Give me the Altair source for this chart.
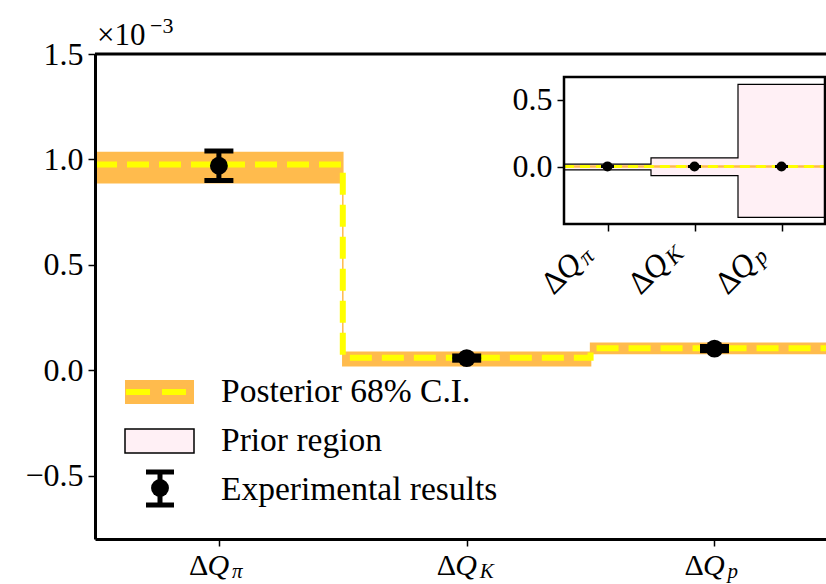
import altair as alt
import pandas as pd

FONT = "Liberation Serif"
ORANGE = "#FFBB4D"
YELLOW = "#FFFF00"
PINK = "#FFF0F5"

# ---------------- data (main panel in units of 1e-3) ----------------
pos = [0, 1, 2]
subs = ["π", "K", "p"]
post_med = [0.976, 0.060, 0.104]
post_lo = [0.890, 0.022, 0.080]
post_hi = [1.033, 0.086, 0.128]
exp_val = [0.970, 0.058, 0.103]
exp_err = [0.070, 0.010, 0.010]
# inset (absolute units)
prior_lo = [-0.025, -0.068, -0.380]
prior_hi = [0.018, 0.065, 0.615]
main_yticks = [-0.5, 0.0, 0.5, 1.0, 1.5]
inset_yticks = [0.0, 0.5]
UNIT = 1e-3

edges = [p - 0.5 for p in pos] + [pos[-1] + 0.5]


def stepify(v):
    return list(v) + [v[-1]]


main_step = pd.DataFrame({"x": edges, "lo": stepify(post_lo), "hi": stepify(post_hi),
                          "med": stepify(post_med)})
inset_step = pd.DataFrame({"x": edges, "plo": stepify(prior_lo), "phi": stepify(prior_hi),
                           "lo": [v * UNIT for v in stepify(post_lo)],
                           "hi": [v * UNIT for v in stepify(post_hi)],
                           "med": [v * UNIT for v in stepify(post_med)]})
exp_df = pd.DataFrame({
    "pos": pos, "sub": subs, "val": exp_val,
    "lo": [v - e for v, e in zip(exp_val, exp_err)],
    "hi": [v + e for v, e in zip(exp_val, exp_err)],
    "ival": [v * UNIT for v in exp_val],
    "ilo": [(v - e) * UNIT for v, e in zip(exp_val, exp_err)],
    "ihi": [(v + e) * UNIT for v, e in zip(exp_val, exp_err)],
})
frame_df = pd.DataFrame({"x0": [edges[0]], "x1": [edges[-1]], "y0": [-0.43], "y1": [0.67]})
one = pd.DataFrame({"a": [0]})

W, H = 731, 485


def xs_main():
    return alt.Scale(domain=[-0.5, 2.45], nice=False, zero=False)


def ys_main():
    return alt.Scale(domain=[-0.8, 1.5], nice=False, zero=False)


def xs_in():
    return alt.Scale(domain=[-0.5, 2.5], range=[469, 730], nice=False, zero=False)


def ys_in():
    return alt.Scale(domain=[-0.43, 0.67], range=[170, 23], nice=False, zero=False)


x_axis_main = alt.Axis(values=pos, labels=False, tickSize=7, tickWidth=1.5, tickColor="black",
                       domainColor="black", domainWidth=3, grid=False, title=None,
                       orient="bottom", zindex=2)
y_axis_main = alt.Axis(values=main_yticks, format=".1f", labelFont=FONT, labelFontSize=32,
                       labelColor="black", labelPadding=5, tickSize=7, tickWidth=1.5,
                       tickColor="black", domainColor="black", domainWidth=3, grid=False,
                       title=None, orient="left", zindex=2)
x_axis_in = alt.Axis(values=pos, labels=False, tickSize=7, tickWidth=1.5, tickColor="black",
                     domain=False, grid=False, title=None, orient="bottom", offset=-315, zindex=2)
y_axis_in = alt.Axis(values=inset_yticks, format=".1f", labelFont=FONT, labelFontSize=32,
                     labelColor="black", labelPadding=5, tickSize=7, tickWidth=1.5,
                     tickColor="black", domain=False, grid=False, title=None, orient="left",
                     offset=-469, zindex=2)


def X(f, s):
    return alt.X(f, scale=s(), axis=None)


def Y(f, s):
    return alt.Y(f, scale=s(), axis=None)


# ---------------- main panel ----------------
band = alt.Chart(main_step).mark_area(interpolate="step-after", color=ORANGE, stroke=ORANGE,
                                      strokeWidth=1.5).encode(
    x=alt.X("x:Q", scale=xs_main(), axis=x_axis_main),
    y=alt.Y("lo:Q", scale=ys_main(), axis=y_axis_main), y2="hi:Q")
med = alt.Chart(main_step).mark_line(interpolate="step-after", color=YELLOW, strokeWidth=6,
                                     strokeDash=[22, 10]).encode(
    x=X("x:Q", xs_main), y=Y("med:Q", ys_main))
ebar = alt.Chart(exp_df).mark_rule(color="black", strokeWidth=5).encode(
    x=X("pos:Q", xs_main), y=Y("lo:Q", ys_main), y2="hi:Q")
cap_lo = alt.Chart(exp_df).mark_tick(color="black", orient="horizontal", size=29, thickness=5,
                                     opacity=1).encode(x=X("pos:Q", xs_main), y=Y("lo:Q", ys_main))
cap_hi = alt.Chart(exp_df).mark_tick(color="black", orient="horizontal", size=29, thickness=5,
                                     opacity=1).encode(x=X("pos:Q", xs_main), y=Y("hi:Q", ys_main))
pts = alt.Chart(exp_df).mark_circle(color="black", opacity=1, size=320).encode(
    x=X("pos:Q", xs_main), y=Y("val:Q", ys_main))

lab_d = alt.Chart(exp_df).mark_text(text="Δ", align="left", baseline="alphabetic", dx=-30,
                                    font=FONT, fontSize=30, color="black").encode(
    x=X("pos:Q", xs_main), y=alt.value(H + 36))
lab_q = alt.Chart(exp_df).mark_text(text="Q", align="left", baseline="alphabetic", dx=-11.5,
                                    font=FONT, fontSize=30, fontStyle="italic",
                                    color="black").encode(
    x=X("pos:Q", xs_main), y=alt.value(H + 36))
lab_s = alt.Chart(exp_df).mark_text(align="left", baseline="alphabetic", dx=13, dy=3,
                                    font=FONT, fontSize=21, fontStyle="italic",
                                    color="black").encode(
    x=X("pos:Q", xs_main), y=alt.value(H + 36), text="sub:N")

top_spine = alt.Chart(one).mark_rule(color="black", strokeWidth=3).encode(y=alt.value(0))
mult = alt.Chart(one).mark_text(text="×10", align="left", baseline="alphabetic", font=FONT,
                                fontSize=31, color="black").encode(
    x=alt.value(2), y=alt.value(-9))
mult_exp = alt.Chart(one).mark_text(text="−3", align="left", baseline="alphabetic", font=FONT,
                                    fontSize=22, color="black").encode(
    x=alt.value(55), y=alt.value(-21))

# legend
leg1 = alt.Chart(one).mark_rect(color=ORANGE).encode(
    x=alt.value(30), x2=alt.value(99), y=alt.value(326), y2=alt.value(350))
leg1l = alt.Chart(one).mark_rule(color=YELLOW, strokeWidth=6, strokeDash=[24, 12]).encode(
    x=alt.value(31), x2=alt.value(99), y=alt.value(338))
leg2 = alt.Chart(one).mark_rect(fill=PINK, stroke="black", strokeWidth=1.5).encode(
    x=alt.value(30), x2=alt.value(99), y=alt.value(375), y2=alt.value(399))
leg3v = alt.Chart(one).mark_rule(color="black", strokeWidth=5).encode(
    x=alt.value(65), y=alt.value(416), y2=alt.value(453))
leg3a = alt.Chart(one).mark_rule(color="black", strokeWidth=5).encode(
    x=alt.value(51), x2=alt.value(79), y=alt.value(418))
leg3b = alt.Chart(one).mark_rule(color="black", strokeWidth=5).encode(
    x=alt.value(51), x2=alt.value(79), y=alt.value(451))
leg3c = alt.Chart(one).mark_circle(color="black", opacity=1, size=320).encode(
    x=alt.value(65), y=alt.value(434))
legend_labels = ["Posterior 68% C.I.", "Prior region", "Experimental results"]
leg_txt = [alt.Chart(one).mark_text(text=t, align="left", baseline="alphabetic", font=FONT,
                                    fontSize=33.5, color="black").encode(
    x=alt.value(126), y=alt.value(yy)) for t, yy in zip(legend_labels, [348, 397, 446])]

main_layers = [band, med, ebar, cap_lo, cap_hi, pts, lab_d, lab_q, lab_s, top_spine, mult,
               mult_exp, leg1, leg1l, leg2, leg3v, leg3a, leg3b, leg3c, *leg_txt]

# ---------------- inset ----------------
prior = alt.Chart(inset_step).mark_area(interpolate="step-after", color=PINK, stroke="black",
                                        strokeWidth=1.2).encode(
    x=alt.X("x:Q", scale=xs_in(), axis=x_axis_in),
    y=alt.Y("plo:Q", scale=ys_in(), axis=y_axis_in), y2="phi:Q")
iband = alt.Chart(inset_step).mark_area(interpolate="step-after", color=ORANGE, stroke=ORANGE,
                                        strokeWidth=2.5).encode(
    x=X("x:Q", xs_in), y=Y("lo:Q", ys_in), y2="hi:Q")
imed = alt.Chart(inset_step).mark_line(interpolate="step-after", color=YELLOW, strokeWidth=3,
                                       strokeDash=[10, 6]).encode(
    x=X("x:Q", xs_in), y=Y("med:Q", ys_in))
icap = alt.Chart(exp_df).mark_tick(color="black", orient="horizontal", size=13, thickness=3,
                                   opacity=1).encode(x=X("pos:Q", xs_in), y=Y("ilo:Q", ys_in))
icap2 = alt.Chart(exp_df).mark_tick(color="black", orient="horizontal", size=13, thickness=3,
                                    opacity=1).encode(x=X("pos:Q", xs_in), y=Y("ihi:Q", ys_in))
ipts = alt.Chart(exp_df).mark_circle(color="black", opacity=1, size=100).encode(
    x=X("pos:Q", xs_in), y=Y("ival:Q", ys_in))
frame = alt.Chart(frame_df).mark_rect(fillOpacity=0, stroke="black", strokeWidth=2.5).encode(
    x=X("x0:Q", xs_in), x2="x1:Q", y=Y("y0:Q", ys_in), y2="y1:Q")

ilab_d = alt.Chart(exp_df).mark_text(text="Δ", align="left", baseline="alphabetic", angle=315,
                                     dx=-89, dy=12.5, font=FONT, fontSize=32,
                                     color="black").encode(
    x=X("pos:Q", xs_in), y=alt.value(170))
ilab_q = alt.Chart(exp_df).mark_text(text="Q", align="left", baseline="alphabetic", angle=315,
                                     dx=-69.5, dy=12.5, font=FONT, fontSize=32,
                                     fontStyle="italic", color="black").encode(
    x=X("pos:Q", xs_in), y=alt.value(170))
ilab_s = alt.Chart(exp_df).mark_text(align="left", baseline="alphabetic", angle=315,
                                     dx=-44, dy=15.5, font=FONT, fontSize=23,
                                     fontStyle="italic", color="black").encode(
    x=X("pos:Q", xs_in), y=alt.value(170), text="sub:N")

inset_layers = [prior, iband, imed, icap, icap2, ipts, frame, ilab_d, ilab_q, ilab_s]

chart = alt.layer(*main_layers, *inset_layers).resolve_scale(
    x="independent", y="independent").properties(
    width=W, height=H,
    autosize=alt.AutoSizeParams(type="none"),
    padding={"left": 95, "top": 54, "right": 0, "bottom": 45},
).configure_view(strokeWidth=0, stroke="transparent").configure(background="white")

chart.save("out.html", embed_options={"renderer": "svg", "actions": False})
